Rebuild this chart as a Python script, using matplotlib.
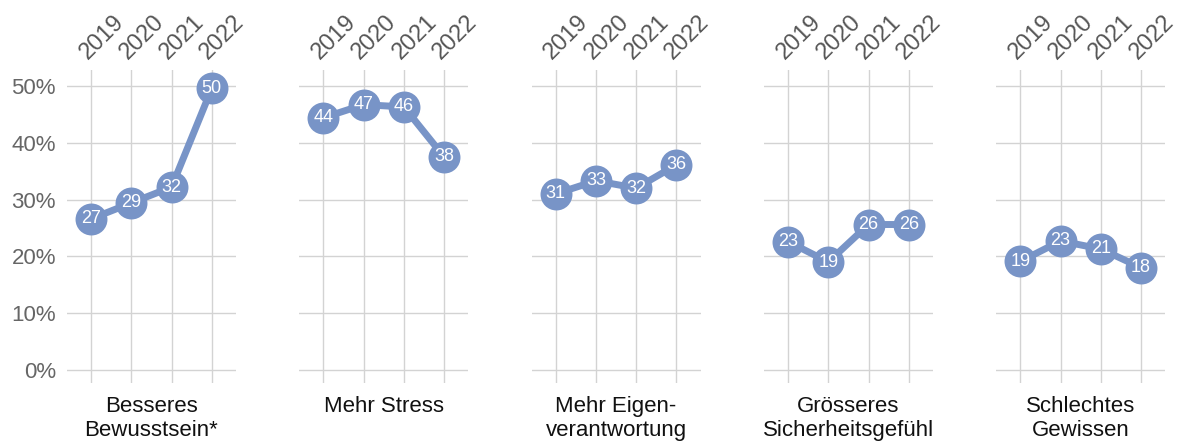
import matplotlib.pyplot as plt
import numpy as np

plt.rcParams['font.family'] = ['Liberation Sans', 'DejaVu Sans']

# Daten
years = ["2019", "2020", "2021", "2022"]
categories = ["Besseres\nBewusstsein*", "Mehr Stress", "Mehr Eigen-\nverantwortung",
              "Grösseres\nSicherheitsgefühl", "Schlechtes\nGewissen"]
besseres = [26.6, 29.4, 32.2, 49.6]
stress = [44.4, 46.7, 46.3, 37.5]
eigen = [31.0, 33.3, 32.0, 36.1]
sicherheit = [22.6, 19.0, 25.6, 25.6]
gewissen = [19.1, 22.7, 21.3, 18.0]
series = [besseres, stress, eigen, sicherheit, gewissen]

farbe = '#7894c7'
grau = '#d3d3d3'

fig = plt.figure(figsize=(11.82, 4.43), dpi=100)
W, H = 1182, 443
x = np.arange(len(years))

for i, (name, vals) in enumerate(zip(categories, series)):
    left = 67 + 232.3 * i
    ax = fig.add_axes([left / W, 1 - 383 / H, 169 / W, 313 / H])
    ax.plot(x, vals, color=farbe, lw=5, zorder=3,
            marker='o', markersize=23, markeredgewidth=0, solid_capstyle='round')
    for xi, v in zip(x, vals):
        ax.text(xi, v, f"{round(v):d}", color='white', fontsize=13,
                ha='center', va='center', zorder=4)
    ax.set_xlim(-0.6, 3.6)
    ax.set_ylim(-2.3, 52.8)
    ax.set_yticks(range(0, 51, 10))
    ax.set_xticks(x)
    ax.grid(True, color=grau, lw=1.0, zorder=0)
    ax.set_axisbelow(True)
    for s in ax.spines.values():
        s.set_visible(False)
    ax.xaxis.tick_top()
    ax.set_xticklabels(years, rotation=45, ha='left', rotation_mode='anchor',
                       fontsize=17, color='#555555')
    ax.tick_params(axis='both', length=0)
    ax.tick_params(axis='x', pad=5)
    if i == 0:
        ax.set_yticklabels([f"{t}%" for t in range(0, 51, 10)],
                           fontsize=16, color='#666666')
        ax.tick_params(axis='y', pad=8)
    else:
        ax.set_yticklabels([])
    ax.text(1.5, -4.6, name, ha='center', va='top', fontsize=16,
            color='#111111', linespacing=1.2)

fig.savefig('out.png', dpi=100)
